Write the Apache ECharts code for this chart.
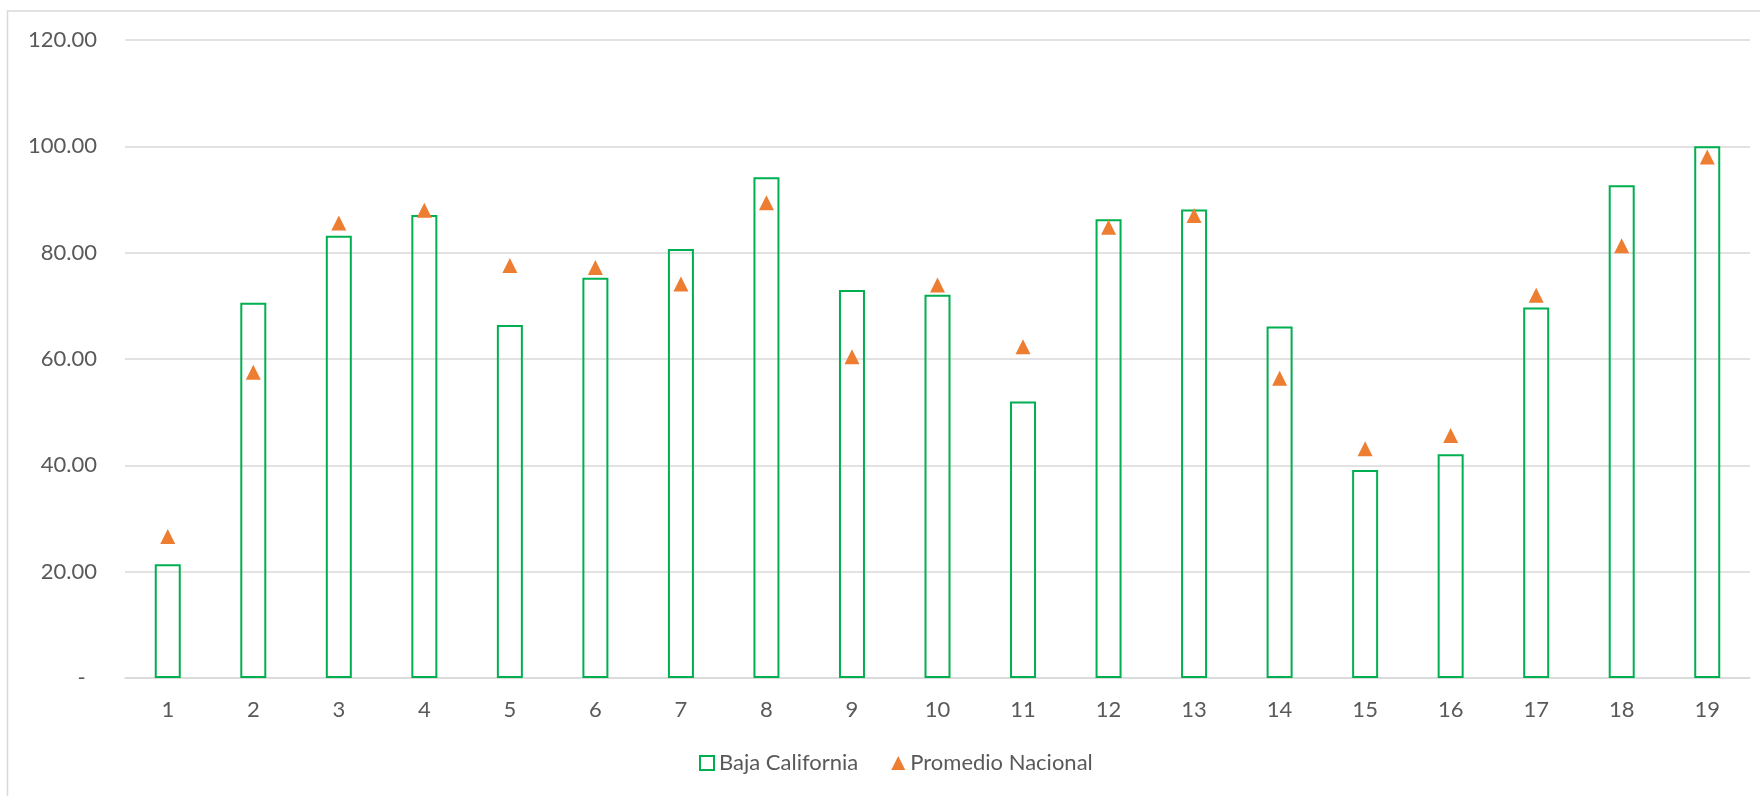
<!DOCTYPE html>
<html>
<head>
<meta charset="utf-8">
<script src="https://cdn.jsdelivr.net/npm/echarts@6/dist/echarts.min.js"></script>
<style>
  html, body { margin: 0; padding: 0; background: #ffffff; }
  #chart { width: 1760px; height: 796px; }
</style>
</head>
<body>
<div id="chart"></div>
<script>
// Indicator number shown on the category axis
const categories = ['1','2','3','4','5','6','7','8','9','10','11','12','13','14','15','16','17','18','19'];

// State result (outlined bars)
const bajaCalifornia = [21.4, 70.6, 83.2, 87.1, 66.4, 75.3, 80.7, 94.2, 73.0, 72.1,
                        52.0, 86.3, 88.1, 66.1, 39.1, 42.1, 69.7, 92.7, 100.0];

// National average (triangle markers)
const promedioNacional = [26.6, 57.5, 85.6, 88.0, 77.6, 77.2, 74.1, 89.4, 60.4, 73.9,
                          62.3, 84.8, 87.0, 56.4, 43.1, 45.6, 72.0, 81.3, 98.0];

// Value axis ticks
const yMin = 0, yMax = 120, yStep = 20;

const seriesNames = ['Baja California', 'Promedio Nacional'];

const textColor = '#595959';
const gridColor = '#D9D9D9';
const font = 'Lato, "Open Sans", sans-serif';

const chart = echarts.init(document.getElementById('chart'), null, { renderer: 'canvas' });

chart.setOption({
  backgroundColor: '#ffffff',
  animation: false,
  textStyle: { fontFamily: font, color: textColor },
  graphic: [{
    type: 'rect',
    silent: true,
    z: -10,
    shape: { x: 7.5, y: 11, width: 2000, height: 2000 },
    style: { fill: 'none', stroke: gridColor, lineWidth: 1.5 }
  }],
  grid: {
    left: 125, right: 10, top: 40, bottom: 118,
    containLabel: false,
    outerBoundsMode: 'none'
  },
  legend: {
    bottom: 17,
    left: 694,
    itemWidth: 14,
    itemHeight: 14,
    itemGap: 33,
    textStyle: { fontFamily: font, fontSize: 22, color: textColor },
    data: [
      { name: seriesNames[0], icon: 'rect' },
      { name: seriesNames[1], icon: 'triangle' }
    ]
  },
  xAxis: {
    type: 'category',
    data: categories,
    axisLine: { show: true, lineStyle: { color: gridColor, width: 1.5 } },
    axisTick: { show: false },
    axisLabel: { color: textColor, fontSize: 22, margin: 21, fontFamily: font }
  },
  yAxis: {
    type: 'value',
    min: yMin, max: yMax, interval: yStep,
    axisLine: { show: false },
    axisTick: { show: false },
    splitLine: { lineStyle: { color: gridColor, width: 1.5 } },
    axisLabel: {
      color: textColor, fontSize: 22, margin: 28, fontFamily: font,
      formatter: v => (v === 0 ? '-  ' : v.toFixed(2))
    }
  },
  series: [
    {
      name: seriesNames[0],
      type: 'bar',
      data: bajaCalifornia,
      barWidth: 26,
      itemStyle: {
        color: 'rgba(255,255,255,0)',
        borderColor: '#00B050',
        borderWidth: 2
      },
      z: 2
    },
    {
      name: seriesNames[1],
      type: 'scatter',
      data: promedioNacional,
      symbol: 'triangle',
      symbolSize: [15, 15],
      itemStyle: { color: '#ED7D31', opacity: 1 },
      z: 3
    }
  ]
});
</script>
</body>
</html>
